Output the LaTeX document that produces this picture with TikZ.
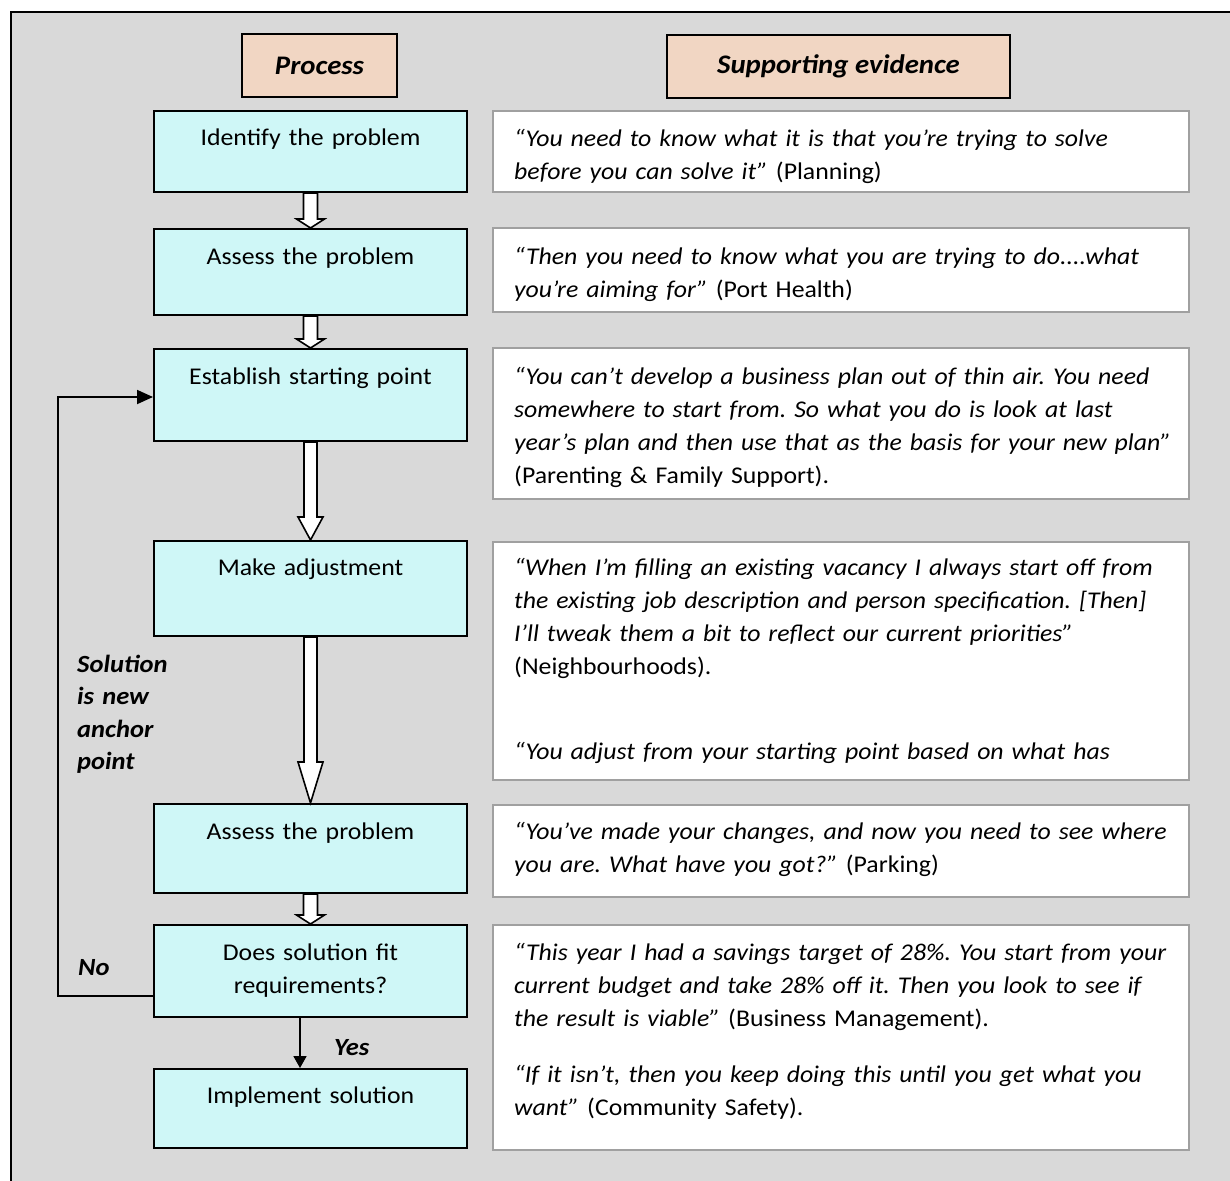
\documentclass[tikz,border=0pt]{standalone}
\usepackage{fontspec}
\setmainfont{Carlito}[FakeStretch=1.074]
\usetikzlibrary{arrows.meta}
\definecolor{bg}{HTML}{D9D9D9}
\definecolor{cyanbox}{HTML}{CFF7F7}
\definecolor{peach}{HTML}{F1D6C3}
\definecolor{evborder}{HTML}{A0A0A0}
\newcommand\spc{\frenchspacing\spaceskip=0.226em plus 0.8em minus 0.02em\relax}
\tikzset{
 procbox/.style={draw=black, line width=2pt, fill=cyanbox, minimum width=313pt, inner sep=0pt},
 hdrbox/.style={draw=black, line width=2pt, fill=peach, inner sep=0pt, minimum height=63pt, font=\fontsize{26.8}{33}\selectfont\bfseries\itshape},
 evbox/.style={draw=evborder, line width=2pt, fill=white, minimum width=696pt, inner sep=0pt},
 ptext/.style={font=\fontsize{24}{33.5}\selectfont\spc, text width=313pt, align=center, inner sep=0pt, anchor=base},
 etext/.style={font=\fontsize{24}{33}\selectfont\spc, text width=690pt, align=left, inner sep=0pt, anchor=base west},
 lbl/.style={font=\fontsize{24.7}{32.5}\selectfont\bfseries\itshape, text width=120pt, align=left, inner sep=0pt, anchor=base west},
 blk/.style={draw=black, line width=1.6pt, fill=white, line join=miter},
 conn/.style={draw=black, line width=1.8pt},
}
\newcommand\blockarr[5]{%
 \draw[blk] ([xshift=-#4]#1.south) -- ([xshift=-#4,yshift=#3]#2.north) -- ([xshift=-#5,yshift=#3]#2.north) -- (#2.north) -- ([xshift=#5,yshift=#3]#2.north) -- ([xshift=#4,yshift=#3]#2.north) -- ([xshift=#4]#1.south) -- cycle;}
\newcommand\jline[1]{\makebox[658pt][s]{#1}}
\begin{document}
\begin{tikzpicture}[x=1pt,y=-1pt]
\useasboundingbox (0,0) rectangle (1230,1180);
\fill[white] (0,0) rectangle (1230,1180);
\draw[line width=2pt, fill=bg] (11,12) rectangle (1245,1195);
% headers
\node[hdrbox, minimum width=155pt] (hp) at (319.5,65.5) {Process};
\node[hdrbox, minimum width=343pt] (he) at (838.5,66.5) {Supporting evidence};
% process boxes
\node[procbox, minimum height=81pt] (p1) at (310.5,151.5) {};
\node[procbox, minimum height=86pt] (p2) at (310.5,272) {};
\node[procbox, minimum height=92pt] (p3) at (310.5,395) {};
\node[procbox, minimum height=95pt] (p4) at (310.5,588.5) {};
\node[procbox, minimum height=89pt] (p5) at (310.5,848.5) {};
\node[procbox, minimum height=92pt] (p6) at (310.5,971) {};
\node[procbox, minimum height=79pt] (p7) at (310.5,1108.5) {};
\node[ptext] (p1t) at (310.5,145) {Identify the problem};
\node[ptext] (p2t) at (310.5,264) {Assess the problem};
\node[ptext] (p3t) at (310.5,384) {Establish starting point};
\node[ptext] (p4t) at (310.5,575) {Make adjustment};
\node[ptext] (p5t) at (310.5,839) {Assess the problem};
\node[ptext] (p6t) at (310.5,960) {Does solution fit\\requirements?};
\node[ptext] (p7t) at (310.5,1103) {Implement solution};
% evidence boxes
\node[evbox, minimum height=81pt] (e1) at (841,151.5) {};
\node[evbox, minimum height=84pt] (e2) at (841,270) {};
\node[evbox, minimum height=151pt] (e3) at (841,423.5) {};
\node[evbox, minimum height=238pt] (e4) at (841,661) {};
\node[evbox, minimum height=92pt] (e5) at (841,851) {};
\node[evbox, minimum height=225pt] (e6) at (841,1037.5) {};
\node[etext] (e1t) at (514,146) {\itshape “You need to know what it is that you’re trying to solve\\
before you can solve it” \upshape(Planning)};
\node[etext] (e2t) at (514,264) {\itshape “Then you need to know what you are trying to do....what\\
you’re aiming for” \upshape(Port Health)};
\node[etext] (e3t) at (514,384) {\itshape\jline{“You can’t develop a business plan out of thin air. You need}\\
\jline{somewhere to start from. So what you do is look at last}\\
\jline{year’s plan and then use that as the basis for your new plan”}\\
\upshape(Parenting \& Family Support).};
\node[etext] (e4t) at (514,575) {\itshape “When I’m filling an existing vacancy I always start off from\\
the existing job description and person specification. [Then]\\
I’ll tweak them a bit to reflect our current priorities”\\
\upshape(Neighbourhoods).\\[52pt]
\itshape “You adjust from your starting point based on what has};
\node[etext] (e5t) at (514,839) {\itshape “You’ve made your changes, and now you need to see where\\
you are. What have you got?” \upshape(Parking)};
\node[etext] (e6t) at (514,960) {\itshape “This year I had a savings target of 28\%. You start from your\\
current budget and take 28\% off it. Then you look to see if\\
the result is viable” \upshape(Business Management).\\[23pt]
\itshape “If it isn’t, then you keep doing this until you get what you\\
want” \upshape(Community Safety).};
% block arrows
\blockarr{p1}{p2}{9pt}{7pt}{14pt}
\blockarr{p2}{p3}{9pt}{7pt}{14pt}
\blockarr{p3}{p4}{23pt}{6.5pt}{12.5pt}
\blockarr{p4}{p5}{41pt}{6.5pt}{12.5pt}
\blockarr{p5}{p6}{9pt}{7pt}{14pt}
% yes arrow
\draw[conn, -{Triangle[length=12pt,width=13pt]}] ([xshift=-10.5pt]p6.south) -- ([xshift=-10.5pt]p7.north);
% loop
\draw[conn, -{Triangle[length=16pt,width=14pt]}] ([yshift=-25pt]p6.west) -- ++(-95,0) |- ([yshift=-2pt]p3.west);
% labels
\node[lbl] (sol) at (77,672) {Solution\\is new\\anchor\\point};
\node[lbl] (no) at (78,975) {No};
\node[lbl] (yes) at (334,1055) {Yes};
\end{tikzpicture}
\end{document}
